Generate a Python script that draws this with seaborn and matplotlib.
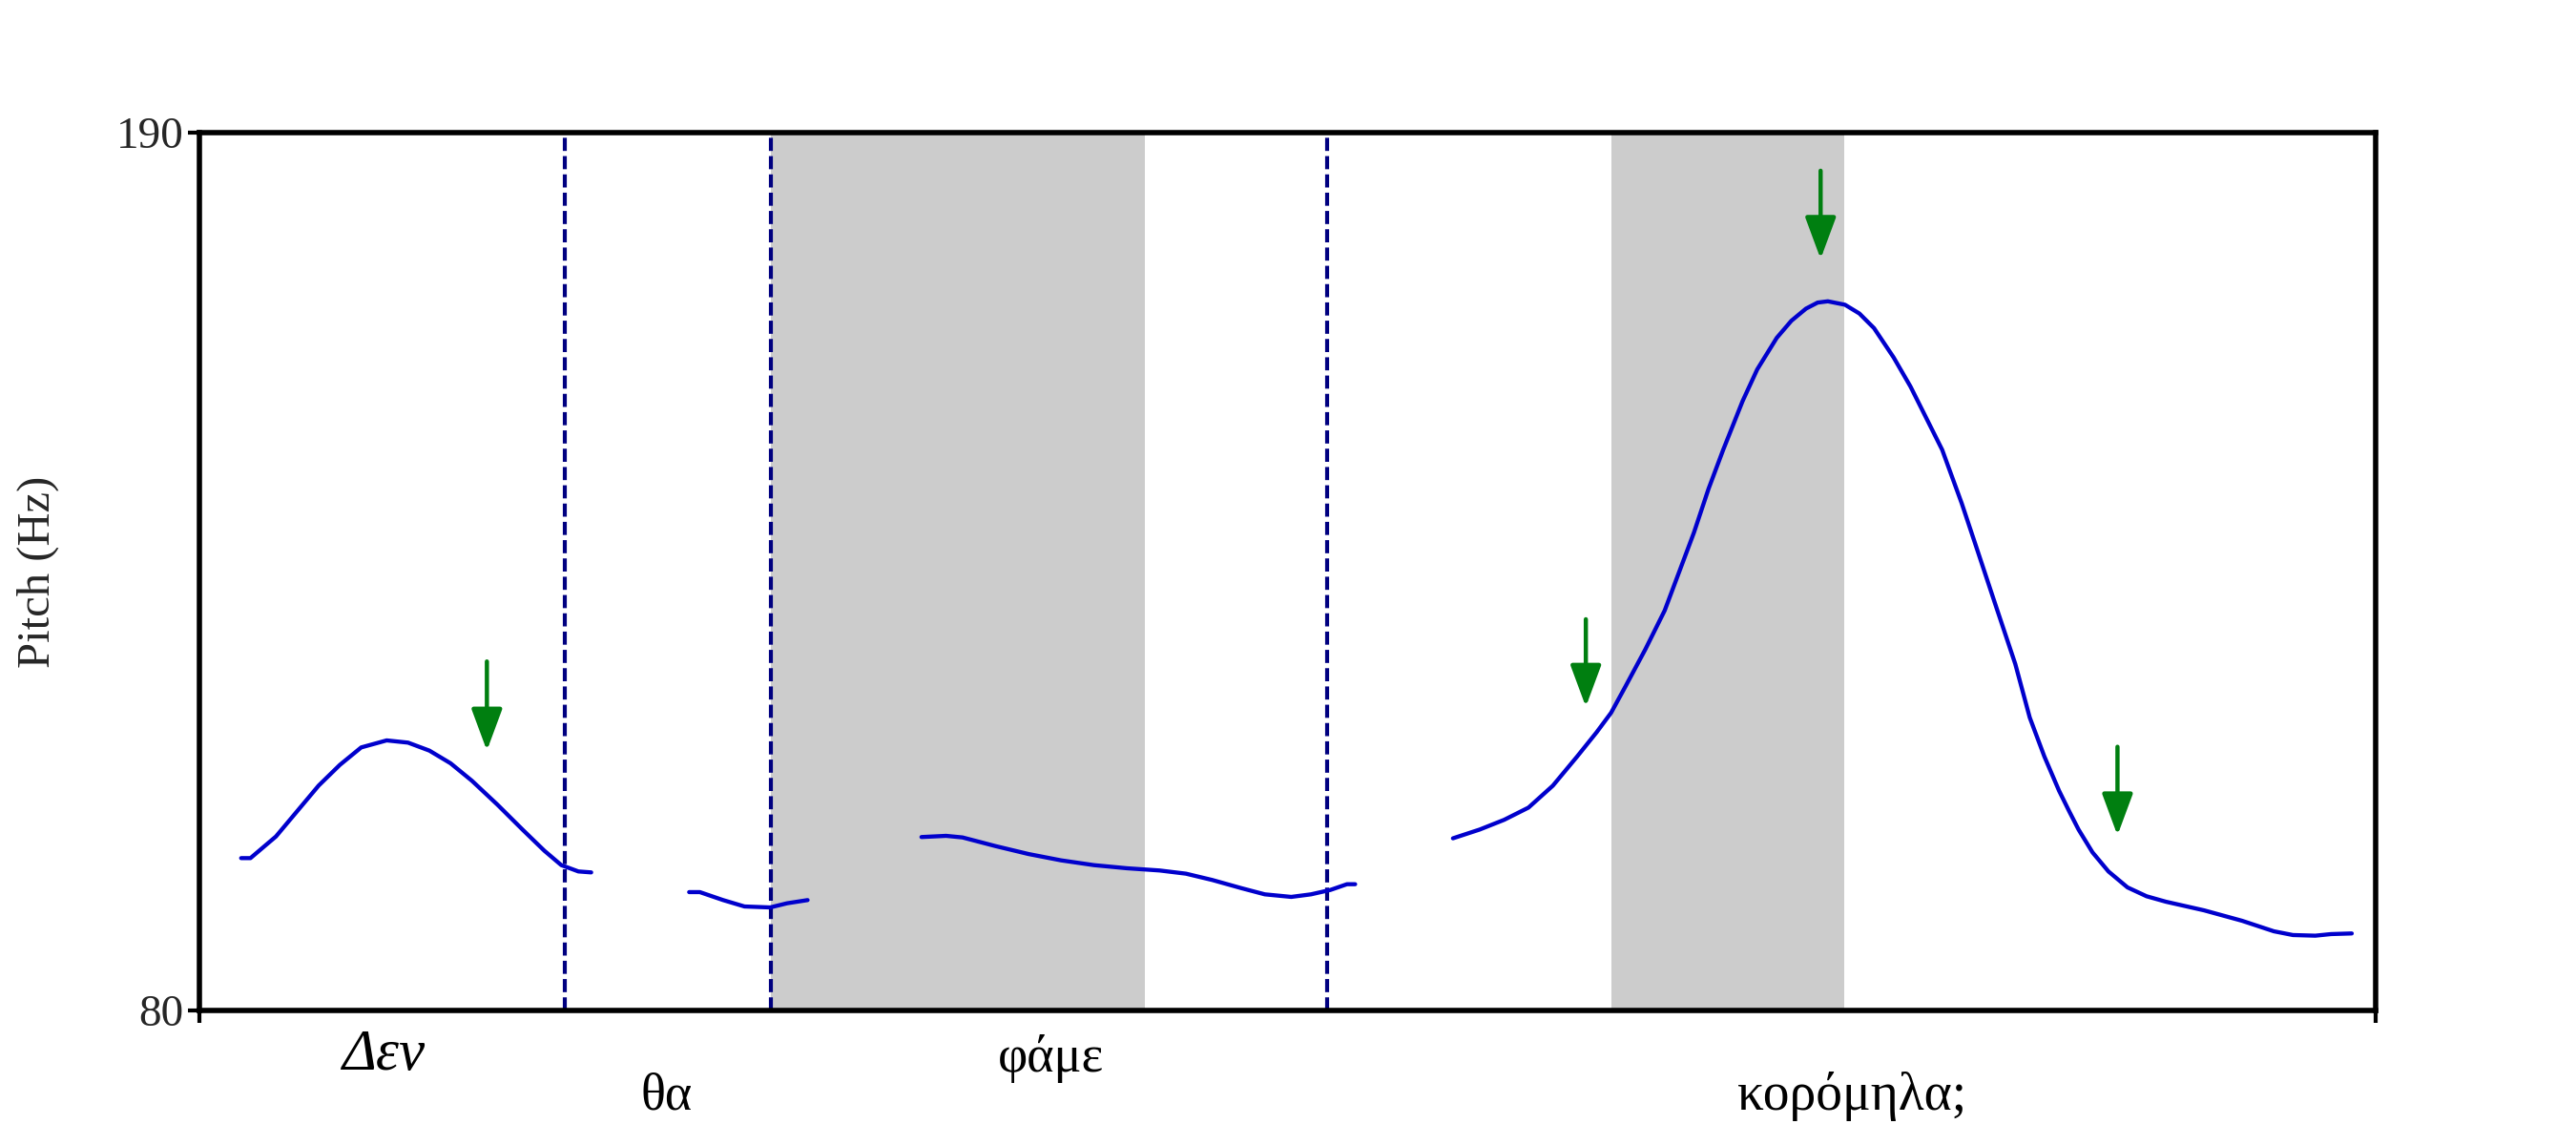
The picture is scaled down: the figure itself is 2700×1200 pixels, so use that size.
import matplotlib
matplotlib.use("Agg")
import matplotlib.pyplot as plt
import pandas as pd
import seaborn as sns

# ---------------- data (time in s, pitch in Hz) ----------------
seg1_t = [0.0254, 0.0311, 0.0466, 0.0596, 0.0726, 0.0855, 0.0985, 0.1140, 0.1270,
          0.1400, 0.1529, 0.1659, 0.1814, 0.1970, 0.2100, 0.2203, 0.2307, 0.2385]
seg1_f0 = [99.09, 99.09, 101.80, 104.99, 108.18, 110.77, 112.96, 113.84, 113.56,
           112.56, 110.97, 108.78, 105.79, 102.60, 100.01, 98.21, 97.42, 97.30]

seg2_t = [0.2981, 0.3046, 0.3188, 0.3318, 0.3474, 0.3577, 0.3702]
seg2_f0 = [94.83, 94.83, 93.83, 93.03, 92.91, 93.43, 93.83]

seg3_t = [0.4395, 0.4545, 0.4645, 0.4845, 0.5045, 0.5245, 0.5445, 0.5645, 0.5845,
          0.6005, 0.6165, 0.6345, 0.6485, 0.6646, 0.6766, 0.6884, 0.6985, 0.7035]
seg3_f0 = [101.73, 101.88, 101.68, 100.60, 99.61, 98.81, 98.21, 97.82, 97.54,
           97.14, 96.35, 95.31, 94.55, 94.23, 94.55, 95.10, 95.82, 95.82]

seg4_t = [0.7630, 0.7793, 0.7942, 0.8090, 0.8238, 0.8386, 0.8505, 0.8593, 0.8682,
          0.8801, 0.8919, 0.9008, 0.9097, 0.9186, 0.9275, 0.9393, 0.9482, 0.9601,
          0.9690, 0.9779, 0.9850, 0.9912, 1.0016, 1.0104, 1.0193, 1.0312, 1.0415,
          1.0519, 1.0608, 1.0727, 1.0816, 1.0934, 1.1053, 1.1141, 1.1230, 1.1319,
          1.1380, 1.1438, 1.1523, 1.1620, 1.1736, 1.1852, 1.1969, 1.2201, 1.2433,
          1.2627, 1.2743, 1.2879, 1.2975, 1.3101]
seg4_f0 = [101.57, 102.67, 103.89, 105.42, 108.16, 111.82, 114.87, 117.31, 120.67,
           125.24, 130.12, 135.00, 139.88, 145.37, 150.25, 156.35, 160.32, 164.28,
           166.42, 167.94, 168.70, 168.86, 168.43, 167.33, 165.50, 161.84, 158.18,
           153.91, 150.25, 143.54, 138.05, 130.73, 123.41, 116.70, 111.82, 107.55,
           105.00, 102.67, 99.81, 97.42, 95.42, 94.31, 93.63, 92.55, 91.24,
           89.92, 89.45, 89.37, 89.57, 89.65]

boundaries = [0.2224, 0.3479, 0.6866]
shaded_start = [0.3479, 0.8593]
shaded_end = [0.5755, 1.0012]

arrow_t = [0.1750, 0.8439, 0.9868, 1.1675]
arrow_top = [123.73, 129.02, 185.22, 113.04]
arrow_tip = [112.56, 118.05, 174.17, 101.94]

words = ["Δεν", "θα", "φάμε", "κορόμηλα;"]
word_t = [0.1118, 0.2846, 0.5183, 1.0060]
word_y = [74.3, 69.2, 74.0, 69.2]
word_style = ["italic", "normal", "normal", "normal"]
word_size = [44, 39, 39, 40]

y_ticks = [80, 190]
x_end = 1.3246

# ---------------- frame ----------------
rows = []
for sid, (ts, fs) in enumerate([(seg1_t, seg1_f0), (seg2_t, seg2_f0),
                                (seg3_t, seg3_f0), (seg4_t, seg4_f0)]):
    for t, f in zip(ts, fs):
        rows.append({"segment": sid, "t": t, "f0": f})
df = pd.DataFrame(rows)

sns.set_theme(style="ticks")
plt.rcParams["font.family"] = ["Liberation Serif", "DejaVu Serif"]

fig = plt.figure(figsize=(27, 12), dpi=100)
ax = fig.add_axes([0.0774, 0.1175, 0.8448, 0.7667])

for s0, s1 in zip(shaded_start, shaded_end):
    ax.axvspan(s0, s1, color="#cccccc", lw=0, zorder=0)

for b in boundaries:
    ax.axvline(b, color="#000080", lw=3.0, ls=(0, (3.3, 1.3)), zorder=1)

sns.lineplot(data=df, x="t", y="f0", units="segment", estimator=None, sort=False,
             color="#0000cc", lw=3.1, ax=ax, legend=False, zorder=3,
             solid_joinstyle="round", solid_capstyle="round")

for t, top, tip in zip(arrow_t, arrow_top, arrow_tip):
    ax.annotate("", xy=(t, tip), xytext=(t, top),
                arrowprops=dict(arrowstyle="-|>,head_length=1.35,head_width=0.5",
                                color="#007f10", lw=3.2, shrinkA=0, shrinkB=0,
                                mutation_scale=20),
                zorder=4)

for w, t, y, st, fs in zip(words, word_t, word_y, word_style, word_size):
    ax.text(t, y, w, ha="center", va="center", fontsize=fs, style=st,
            color="black", clip_on=False)

ax.set_xlim(0, x_end)
ax.set_ylim(80, 190)
ax.set_yticks(y_ticks)
ax.set_yticklabels([str(v) for v in y_ticks], fontsize=34)
ax.set_xticks([0, x_end])
ax.set_xticklabels(["", ""])
ax.tick_params(axis="both", direction="out", length=9, width=3, color="black", pad=3)
ax.set_xlabel("")
ax.set_ylabel("Pitch (Hz)", fontsize=35)
ax.yaxis.set_label_coords(-0.0644, 0.5)

for sp in ax.spines.values():
    sp.set_visible(True)
    sp.set_linewidth(4.0)
    sp.set_color("black")

fig.savefig("out.png", dpi=100, facecolor="white")
